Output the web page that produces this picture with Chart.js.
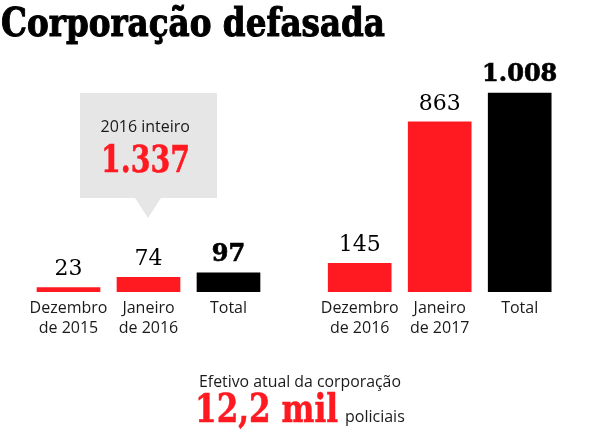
<!DOCTYPE html>
<html lang="pt-BR">
<head>
<meta charset="utf-8">
<title>Corporação defasada</title>
<script src="https://cdn.jsdelivr.net/npm/chart.js@4"></script>
<style>
  html, body { margin: 0; padding: 0; background: #fff; }
  #wrap { position: relative; width: 600px; height: 445px; overflow: hidden; }
  #chart { position: absolute; left: 0; top: 0; }
  .txt { position: absolute; white-space: nowrap; line-height: 1.2; transform-origin: 0 0; }
  .serif { font-family: 'DejaVu Serif', serif; font-weight: bold; color: #000; -webkit-text-stroke: 0.6px currentColor; }
  .sans { font-family: 'Open Sans', sans-serif; font-size: 16px; color: #1a1a1a; }
  .red { color: #ff1a22; }
  #title { -webkit-text-stroke: 1.1px #000; }
  #callout { position: absolute; left: 80px; top: 93px; width: 137px; height: 105px; background: #e6e6e6; }
  #callout::after {
    content: ''; position: absolute; left: 55px; top: 105px;
    border-left: 13.5px solid transparent; border-right: 13.5px solid transparent;
    border-top: 20px solid #e6e6e6;
  }
</style>
</head>
<body>
<div id="wrap">
  <div id="callout"></div>
  <canvas id="chart" width="600" height="445"></canvas>

  <div class="txt serif" id="title" style="font-size:40px">Corporação defasada</div>
  <div class="txt sans" id="calloutLabel">2016 inteiro</div>
  <div class="txt serif red" id="calloutValue" style="font-size:37px">1.337</div>
  <div class="txt sans" id="footLabel">Efetivo atual da corporação</div>
  <div class="txt serif red" id="footValue" style="font-size:40px">12,2 mil</div>
  <div class="txt sans" id="footUnit">policiais</div>
</div>

<script>
// ---- Data ----
const categories = [
  ['Dezembro', 'de 2015'], ['Janeiro', 'de 2016'], ['Total'],
  ['Dezembro', 'de 2016'], ['Janeiro', 'de 2017'], ['Total']
];
const efetivo = [23, 74, 97, 145, 863, 1008];

// ---- Layout constants ----
const RED = '#ff1a22';
const BLACK = '#000000';
const GROUP_GAP = 0.64;   // extra space between the two periods (in slots)

const isTotal = categories.map(c => c[0] === 'Total');

// slot position of each bar, with a gap after every "Total"
let shift = 0;
const slots = categories.map((c, i) => {
  const p = i + shift;
  if (isTotal[i]) shift += GROUP_GAP;
  return p;
});

const fmt = v => String(v).replace(/\B(?=(\d{3})+(?!\d))/g, '.');

// value labels above bars
const valueLabels = {
  id: 'valueLabels',
  afterDatasetsDraw(chart) {
    const ctx = chart.ctx;
    const meta = chart.getDatasetMeta(0);
    ctx.save();
    ctx.textAlign = 'center';
    ctx.textBaseline = 'alphabetic';
    ctx.fillStyle = '#000';
    ctx.strokeStyle = '#000';
    meta.data.forEach((bar, i) => {
      const txt = fmt(efetivo[i]);
      ctx.font = isTotal[i] ? 'bold 24px "DejaVu Serif"' : '22px "DejaVu Serif"';
      ctx.fillText(txt, bar.x, bar.y - 12);
      if (isTotal[i]) {
        ctx.lineWidth = 0.7;
        ctx.strokeText(txt, bar.x, bar.y - 12);
      }
    });
    ctx.restore();
  }
};

new Chart(document.getElementById('chart'), {
  type: 'bar',
  data: {
    datasets: [{
      data: efetivo.map((v, i) => ({ x: slots[i], y: v })),
      backgroundColor: isTotal.map(t => t ? BLACK : RED),
      barThickness: 63,
      borderWidth: 0
    }]
  },
  options: {
    responsive: false,
    animation: false,
    devicePixelRatio: 1,
    layout: { padding: { top: 75, bottom: 101, left: 0, right: 0 } },
    plugins: { legend: { display: false }, tooltip: { enabled: false } },
    scales: {
      x: {
        type: 'linear',
        offset: false,
        min: -68.5 / 80,
        max: (600 - 68.5) / 80,
        grid: { display: false, drawTicks: false },
        border: { display: false },
        afterBuildTicks: axis => { axis.ticks = slots.map(v => ({ value: v })); },
        ticks: {
          autoSkip: false,
          maxRotation: 0,
          padding: 6,
          color: '#1a1a1a',
          font: { family: 'Open Sans', size: 16, lineHeight: 1.25 },
          callback: (value, index) => categories[index]
        }
      },
      y: { display: false, min: 0, max: 1100 }
    }
  },
  plugins: [valueLabels]
});

// ---- HTML texts: place by baseline, optionally fit width ----
function place(id, x, baseline, align, width) {
  const el = document.getElementById(id);
  const probe = document.createElement('span');
  probe.style.cssText = 'display:inline-block;width:0;height:0;vertical-align:baseline';
  el.appendChild(probe);
  const base = probe.offsetTop;
  el.removeChild(probe);
  let w = el.offsetWidth;
  let k = 1;
  if (width) { k = width / w; w = width; }
  el.style.transform = 'scaleX(' + k + ')';
  let left = x;
  if (align === 'center') left = x - w / 2;
  el.style.left = left + 'px';
  el.style.top = (baseline - base) + 'px';
}

place('title', 1, 36, 'left', 384);
place('calloutLabel', 145.5, 132, 'center');
place('calloutValue', 145.5, 172, 'center', 89);
place('footLabel', 300, 387, 'center', 202);
place('footValue', 195, 422, 'left', 143);
place('footUnit', 345, 422, 'left');
</script>
</body>
</html>
